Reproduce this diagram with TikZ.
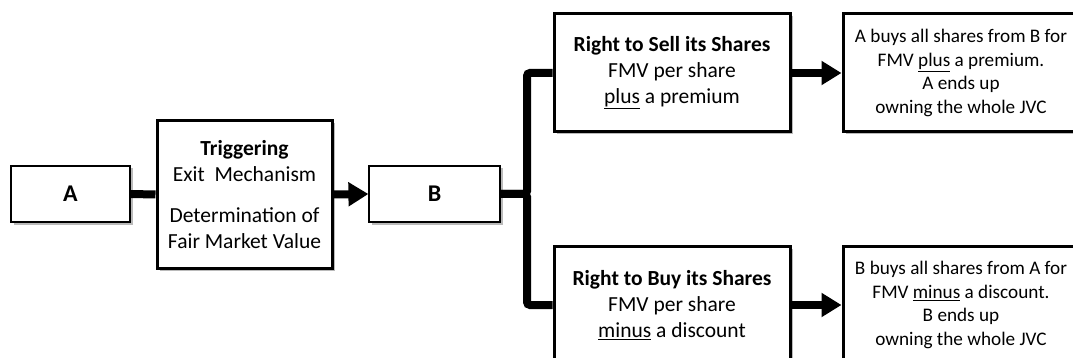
\documentclass[tikz,border=0pt]{standalone}
\usepackage{fontspec}
\setmainfont{Carlito}
\usetikzlibrary{arrows.meta,shadows}
\tikzset{
  box/.style={draw=black, fill=white, align=center, inner sep=0pt,
    drop shadow={shadow xshift=2.5pt, shadow yshift=-2.5pt, fill=black!45, opacity=.6}},
  thinbox/.style={box, line width=1.2pt, minimum height=56pt, font=\fontsize{24}{28}\selectfont\bfseries},
  thickbox/.style={box, line width=3pt},
  bigtext/.style={font=\fontsize{21.5}{26}\selectfont},
  smalltext/.style={font=\fontsize{19.2}{23.5}\selectfont},
  link/.style={line width=8pt, black},
  arrowlink/.style={link, -{Triangle[length=20pt,width=23pt]}},
}
\begin{document}
\begin{tikzpicture}[x=1pt,y=-1pt]
\useasboundingbox (0,0) rectangle (1073,358);
\clip (0,0) rectangle (1073,358);

% left part of the chain
\node[thinbox, minimum width=119pt] (A) at (70.5,194) {A};
\node[thickbox, bigtext, minimum width=175pt, minimum height=147pt] (trig) at (244.5,194.5)
  {\textbf{Triggering}\\Exit\ \ Mechanism\\[15pt]Determination of\\Fair Market Value};
\node[thinbox, minimum width=131pt] (B) at (434.5,194) {B};

% the two options
\node[thickbox, bigtext, minimum width=236pt, minimum height=118pt] (sell) at (672,73)
  {\textbf{Right to Sell its Shares}\\FMV per share\\\underline{plus} a premium};
\node[thickbox, bigtext, minimum width=236pt, minimum height=118pt] (buy) at (672,305)
  {\textbf{Right to Buy its Shares}\\FMV per share\\\underline{minus} a discount};

% outcomes
\node[thickbox, smalltext, minimum width=236pt, minimum height=118pt] (resA) at (961,73)
  {A buys all shares from B for\\FMV \underline{plus} a premium.\\A ends up\\owning the whole JVC};
\node[thickbox, smalltext, minimum width=236pt, minimum height=118pt] (resB) at (961,305)
  {B buys all shares from A for\\FMV \underline{minus} a discount.\\B ends up\\owning the whole JVC};

% connectors
\coordinate (fork) at (527,194);
\draw[link] (A.east) -- (trig.west);
\draw[arrowlink] (trig.east) -- (B.west);
\draw[link, rounded corners=3pt] (B.east) -- (fork) |- (sell.west);
\draw[link, rounded corners=3pt] (B.east) -- (fork) |- (buy.west);
\draw[arrowlink] (sell.east) -- (resA.west);
\draw[arrowlink] (buy.east) -- (resB.west);
\end{tikzpicture}
\end{document}
